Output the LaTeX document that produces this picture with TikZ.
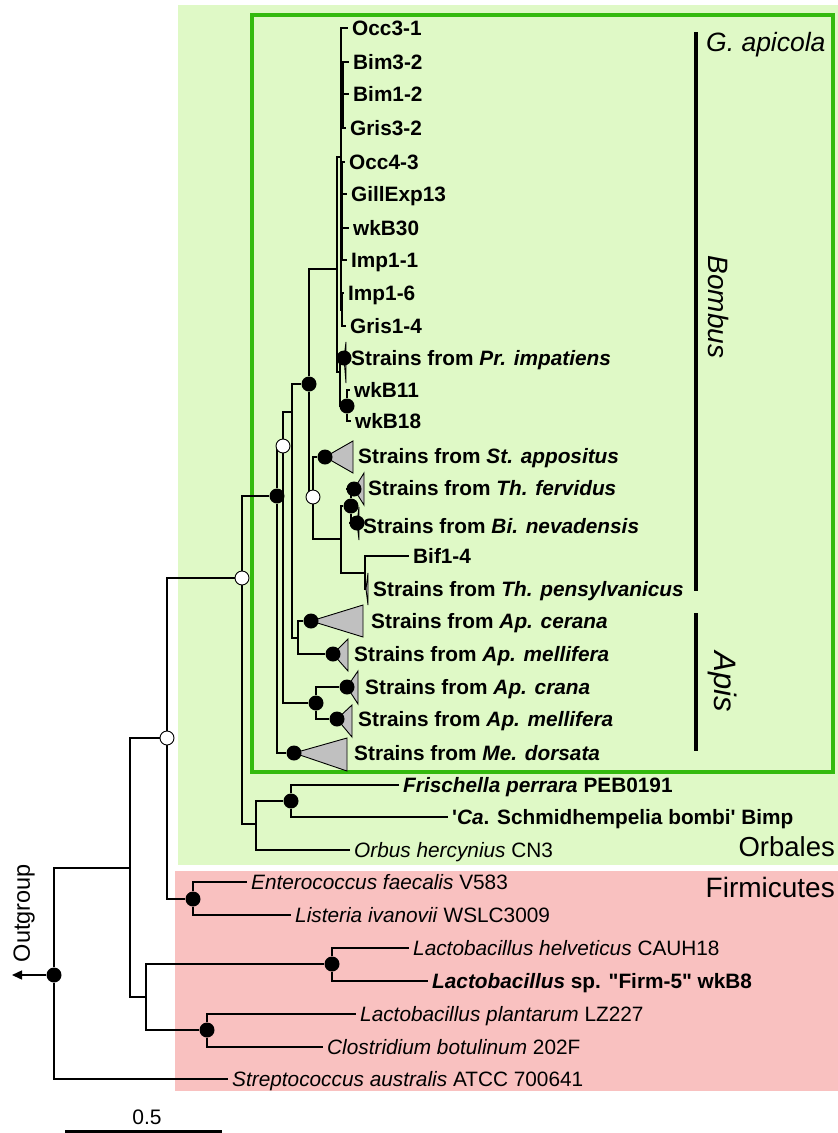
\documentclass[tikz,border=0pt]{standalone}
\usepackage{fontspec}
\setmainfont{Liberation Sans}
\usetikzlibrary{arrows.meta}
\definecolor{orbgreen}{RGB}{223,249,198}
\definecolor{firmred}{RGB}{249,193,192}
\definecolor{boxgreen}{RGB}{52,186,14}
\definecolor{cladegray}{RGB}{192,192,192}
\pgfdeclarelayer{back}
\pgfdeclarelayer{edges}
\pgfsetlayers{back,edges,main}
\tikzset{
  br/.style={line width=1.4pt},
  bs/.style={circle,fill=black,inner sep=0pt,minimum size=15pt},
  ws/.style={circle,draw=black,fill=white,line width=0.9pt,inner sep=0pt,minimum size=14pt},
  leaf/.style={anchor=west,inner xsep=4pt,inner ysep=0pt,text height=14.9pt,text depth=0pt,
    font=\fontsize{20.8}{24}\selectfont},
  bleaf/.style={leaf,font=\fontsize{20.8}{24}\selectfont\bfseries},
  clade/.style={draw=black,fill=cladegray,line width=0.9pt},
  grp/.style={inner sep=0pt,font=\fontsize{#1}{#1}\selectfont},
  grpi/.style={inner sep=0pt,font=\fontsize{#1}{#1}\selectfont\itshape}
}

\begin{document}
\begin{tikzpicture}[x=1pt,y=-1pt]
  \useasboundingbox (0,0) rectangle (838,1133);
%
  \begin{pgfonlayer}{back}
  \fill[orbgreen] (178,5) rectangle (838,865);
  \fill[firmred] (175,871) rectangle (838,1091);
  \draw[boxgreen,line width=4pt] (252,15) rectangle (833,772);
  \end{pgfonlayer}
%
  % internal nodes
  \node[bs] (root) at (54,975) {};
  \coordinate (og) at (12,975);
  \coordinate (n1) at (130,868);
  \coordinate (nB) at (146,997);
  \node[bs] (lac) at (332,964) {};
  \node[bs] (lpc) at (207,1030) {};
  \node[ws] (nA) at (167,738) {};
  \node[bs] (efl) at (193,899) {};
  \node[ws] (nC) at (242,578) {};
  \coordinate (orb) at (256,824);
  \node[bs] (fsc) at (291,801) {};
  \node[bs] (nD) at (277,496) {};
  \node[ws] (nE) at (283,446) {};
  \coordinate (nF) at (292,412);
  \coordinate (apc) at (298,638);
  \node[bs] (acm) at (316,703) {};
  \node[bs] (nG) at (309,384) {};
  \node[ws] (nH) at (313,497) {};
  \coordinate (nI) at (341,539);
  \node[bs] (nJ) at (351,506) {};
  \coordinate (nT) at (365,573);
  \coordinate (gap) at (337,269);
  \coordinate (gA) at (341,157);
  \coordinate (gB) at (343,94);
  \coordinate (gC) at (342,210);
  \coordinate (gD) at (342,310);
  \coordinate (gL) at (340,372);
  \node[bs] (wkb) at (347,406) {};
%
  % collapsed clades
  \node[bs] (prim) at (344,358) {};
  \node[bs] (stap) at (325,457) {};
  \node[bs] (thfe) at (354,489) {};
  \node[bs] (bine) at (357,523) {};
  \coordinate (thpe) at (366,589);
  \node[bs] (apce) at (311,621) {};
  \node[bs] (apmeA) at (333,654) {};
  \node[bs] (apcr) at (347,687) {};
  \node[bs] (apmeB) at (337,719) {};
  \node[bs] (medo) at (294,753) {};
%
  % leaves
  \node[bleaf] (occ31) at (348,28) {Occ3-1};
  \node[bleaf] (bim32) at (349,62) {Bim3-2};
  \node[bleaf] (bim12) at (349,94) {Bim1-2};
  \node[bleaf] (gris32) at (346,128) {Gris3-2};
  \node[bleaf] (occ43) at (345,162) {Occ4-3};
  \node[bleaf] (gill) at (347,194) {GillExp13};
  \node[bleaf] (wkb30) at (349,228) {wkB30};
  \node[bleaf] (imp11) at (347,260) {Imp1-1};
  \node[bleaf] (imp16) at (344,293) {Imp1-6};
  \node[bleaf] (gris14) at (346,326) {Gris1-4};
  \node[bleaf] (lprim) at (347,358) {Strains from \textit{Pr. impatiens}};
  \node[bleaf] (wkb11) at (350,390) {wkB11};
  \node[bleaf] (wkb18) at (351,421) {wkB18};
  \node[bleaf] (lstap) at (354,456) {Strains from \textit{St. appositus}};
  \node[bleaf] (lthfe) at (364,488) {Strains from \textit{Th. fervidus}};
  \node[bleaf] (lbine) at (359,526) {Strains from \textit{Bi. nevadensis}};
  \node[bleaf] (bif) at (409,556) {Bif1-4};
  \node[bleaf] (lthpe) at (369,589) {Strains from \textit{Th. pensylvanicus}};
  \node[bleaf] (lapce) at (367,621) {Strains from \textit{Ap. cerana}};
  \node[bleaf] (lapmeA) at (350,654) {Strains from \textit{Ap. mellifera}};
  \node[bleaf] (lapcr) at (361,687) {Strains from \textit{Ap. crana}};
  \node[bleaf] (lapmeB) at (354,719) {Strains from \textit{Ap. mellifera}};
  \node[bleaf] (lmedo) at (350,753) {Strains from \textit{Me. dorsata}};
  \node[bleaf] (fris) at (399,785) {\textit{Frischella perrara} PEB0191};
  \node[bleaf] (schm) at (448,817) {\textquotesingle\textit{Ca}. Schmidhempelia bombi\textquotesingle{} Bimp};
  \node[leaf] (orbh) at (350,850) {\textit{Orbus hercynius} CN3};
  \node[leaf] (entc) at (247,882) {\textit{Enterococcus faecalis} V583};
  \node[leaf] (list) at (291,915) {\textit{Listeria ivanovii} WSLC3009};
  \node[leaf] (lhel) at (409,948) {\textit{Lactobacillus helveticus} CAUH18};
  \node[bleaf] (firm5) at (428,981) {\textit{Lactobacillus} sp. \textquotedbl Firm-5\textquotedbl{} wkB8};
  \node[leaf] (lpla) at (356,1014) {\textit{Lactobacillus plantarum} LZ227};
  \node[leaf] (clos) at (323,1047) {\textit{Clostridium botulinum} 202F};
  \node[leaf] (strep) at (228,1079) {\textit{Streptococcus australis} ATCC 700641};
%
  \begin{pgfonlayer}{edges}
  \draw[br,-{Triangle[length=10pt,width=9pt]}] (root) -- (og);
  \draw[br] (root) |- (n1);
  \draw[br] (root) |- (strep);
  \draw[br] (n1) |- (nA);
  \draw[br] (n1) |- (nB);
  \draw[br] (nB) |- (lac);
  \draw[br] (nB) |- (lpc);
  \draw[br] (lac) |- (lhel);
  \draw[br] (lac) |- (firm5);
  \draw[br] (lpc) |- (lpla);
  \draw[br] (lpc) |- (clos);
%
  \draw[br] (nA) |- (nC);
  \draw[br] (nA) |- (efl);
  \draw[br] (efl) |- (entc);
  \draw[br] (efl) |- (list);
  \draw[br] (nC) |- (nD);
  \draw[br] (nC) |- (orb);
  \draw[br] (orb) |- (fsc);
  \draw[br] (orb) |- (orbh);
  \draw[br] (fsc) |- (fris);
  \draw[br] (fsc) |- (schm);
%
  \draw[br] (nD) |- (nE);
  \draw[br] (nD) |- (medo);
  \draw[br] (nE) |- (nF);
  \draw[br] (nE) |- (acm);
  \draw[br] (acm) |- (apcr);
  \draw[br] (acm) |- (apmeB);
  \draw[br] (nF) |- (nG);
  \draw[br] (nF) |- (apc);
  \draw[br] (apc) |- (apce);
  \draw[br] (apc) |- (apmeA);
  \draw[br] (nG) |- (gap);
  \draw[br] (nG) |- (nH);
  \draw[br] (nH) |- (stap);
  \draw[br] (nH) |- (nI);
  \draw[br] (nI) |- (nJ);
  \draw[br] (nI) |- (nT);
  \draw[br] (nJ) |- (thfe);
  \draw[br] (nJ) |- (bine);
  \draw[br] (nT) |- (bif);
  \draw[br] (nT) |- (thpe);
%
  \draw[br] (gap) |- (gA);
  \draw[br] (gap) |- (gL);
  \draw[br] (gA) |- (occ31);
  \draw[br] (gA) |- (gB);
  \draw[br] (gA) |- (gC);
  \draw[br] (gA) |- (gD);
  \draw[br] (gB) |- (bim32);
  \draw[br] (gB) |- (bim12);
  \draw[br] (gB) |- (gris32);
  \draw[br] (gC) |- (occ43);
  \draw[br] (gC) |- (gill);
  \draw[br] (gC) |- (wkb30);
  \draw[br] (gC) |- (imp11);
  \draw[br] (gD) |- (imp16);
  \draw[br] (gD) |- (gris14);
  \draw[br] (gL) |- (prim);
  \draw[br] (gL) |- (wkb);
  \draw[br] (wkb) |- (wkb11);
  \draw[br] (wkb) |- (wkb18);
%
  \draw[clade] (prim.center) -- ++(2,-16) -- ++(0,41) -- cycle;
  \draw[clade] (stap.center) -- ++(28,-16) -- ++(0,32) -- cycle;
  \draw[clade] (thfe.center) -- ++(10,-16) -- ++(0,32) -- cycle;
  \draw[clade] (bine.center) -- ++(2,-16) -- ++(0,33) -- cycle;
  \draw[clade] (thpe) -- ++(2,-16) -- ++(0,32) -- cycle;
  \draw[clade] (apce.center) -- ++(52,-16) -- ++(0,32) -- cycle;
  \draw[clade] (apmeA.center) -- ++(15,-15) -- ++(0,32) -- cycle;
  \draw[clade] (apcr.center) -- ++(11,-16) -- ++(0,33) -- cycle;
  \draw[clade] (apmeB.center) -- ++(15,-14) -- ++(0,32) -- cycle;
  \draw[clade] (medo.center) -- ++(53,-15) -- ++(0,33) -- cycle;
  \end{pgfonlayer}
%
  % groups
  \draw[line width=4pt] (696,32) -- (696,591);
  \draw[line width=4pt] (696,613) -- (696,751);
  \node[grpi=26.5,anchor=west] (gapi) at (706,45) {G. apicola};
  \node[grpi=28,rotate=-90] (bombus) at (719,307) {Bombus};
  \node[grpi=31,rotate=-90] (apis) at (723,682) {Apis};
  \node[grp=27.5,anchor=east] (orbales) at (835,847) {Orbales};
  \node[grp=28,anchor=east] (firmic) at (835,887) {Firmicutes};
  \node[grp=23.5,rotate=90] (outg) at (24,913) {Outgroup};
%
  % scale
  \node[grp=21] (sclab) at (147,1117) {0.5};
  \draw[line width=6pt] (65,1133) -- (222,1133);
\end{tikzpicture}
\end{document}
